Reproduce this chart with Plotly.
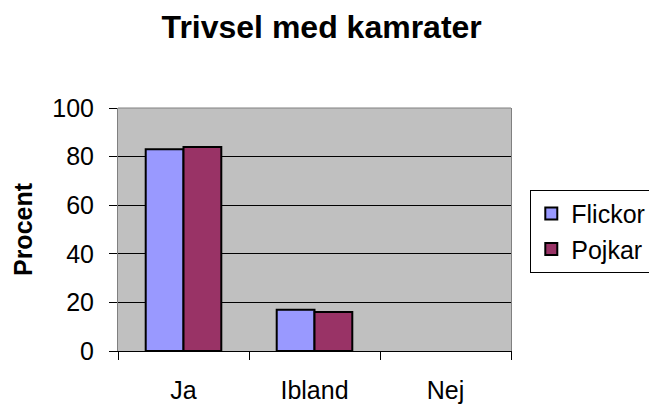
import plotly.graph_objects as go

categories = ["Ja", "Ibland", "Nej"]
flickor = [83, 17, 0]
pojkar = [84, 16, 0]
y_ticks = [0, 20, 40, 60, 80, 100]

FONT = "Liberation Sans, Arial, sans-serif"
W, H = 649, 405
L, R, T, B = 117.5, 138.3, 108.3, 54

# no outline on empty (zero-height) bars, as in the reference
outline = [2 if v else 0 for v in flickor]
outline2 = [2 if v else 0 for v in pojkar]

fig = go.Figure()
fig.add_trace(go.Bar(name="Flickor", x=categories, y=flickor,
                     marker=dict(color="#9999FF", line=dict(color="black", width=outline))))
fig.add_trace(go.Bar(name="Pojkar", x=categories, y=pojkar,
                     marker=dict(color="#993366", line=dict(color="black", width=outline2))))

pw = W - L - R
ph = H - T - B

fig.update_layout(
    width=W, height=H,
    margin=dict(l=L, r=R, t=T, b=B, autoexpand=False),
    paper_bgcolor="white",
    plot_bgcolor="#C0C0C0",
    font=dict(family=FONT, size=25, color="black"),
    barmode="group", bargap=0.423, bargroupgap=0,
    title=dict(text="<b>Trivsel med kamrater</b>", font=dict(size=32, family=FONT, color="black"),
               x=321.7 / W, xanchor="center", xref="container",
               y=1 - 27 / H, yanchor="middle", yref="container"),
    legend=dict(x=(530 - L) / pw, xanchor="left", y=(H - B - 190) / ph, yanchor="top",
                bordercolor="black", borderwidth=1, bgcolor="white",
                font=dict(size=25, family=FONT), itemclick=False),
    xaxis=dict(showline=True, linecolor="black", linewidth=1, mirror=False,
               ticks="outside", tickson="boundaries", ticklen=8, tickcolor="black",
               ticklabelstandoff=17, showgrid=False,
               tickfont=dict(size=25)),
    yaxis=dict(range=[0, 100], tickvals=y_ticks, showline=True, linecolor="#808080",
               linewidth=1, mirror=True, ticks="outside", ticklen=8, tickcolor="black",
               showgrid=True, gridcolor="black", gridwidth=1, zeroline=False,
               ticklabelstandoff=10, tickfont=dict(size=25)),
    shapes=[dict(type="line", xref="paper", yref="paper", x0=0, x1=1, y0=1, y1=1,
                 line=dict(color="#808080", width=1))],
    annotations=[dict(text="<b>Procent</b>", xref="paper", yref="paper",
                      x=(22 - L) / pw, y=0.5, xanchor="center", yanchor="middle",
                      textangle=-90, showarrow=False, font=dict(size=25, family=FONT))],
)

fig.write_html("out.html", config={"displayModeBar": False},
               post_script="document.body.style.margin='0px';")
